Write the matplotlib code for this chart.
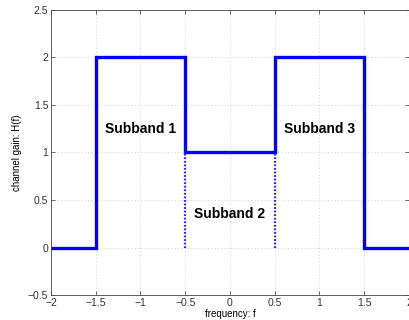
import matplotlib
matplotlib.use("Agg")
import matplotlib.pyplot as plt
import numpy as np

plt.rcParams['font.family'] = ['Liberation Sans', 'DejaVu Sans']

# channel gain, piecewise constant
freq = np.array([-2, -1.5, -1.5, -0.5, -0.5, 0.5, 0.5, 1.5, 1.5, 2])
gain = np.array([0, 0, 2, 2, 1, 1, 2, 2, 0, 0])

# subband boundaries drawn dotted
edges = [-0.5, 0.5]
edge_top = 1

labels = ["Subband 1", "Subband 2", "Subband 3"]
label_x = [-1, 0, 1]
label_y = [1.25, 0.35, 1.25]

fig = plt.figure(figsize=(4.1, 3.2), dpi=100)
ax = fig.add_axes([0.1244, 0.078, 0.873, 0.891])

ax.plot(freq, gain, color='#0000ff', lw=2.4, solid_joinstyle='miter')
for e in edges:
    ax.plot([e, e], [0, edge_top], color='#2828ff', lw=1.6, ls=(0, (0.8, 0.8)))

for t, x, y in zip(labels, label_x, label_y):
    ax.text(x, y, t, ha='center', va='center', fontsize=10, fontweight='bold')

ax.set_xlim(-2, 2)
ax.set_ylim(-0.5, 2.5)
ax.set_xticks(np.arange(-2, 2.01, 0.5))
ax.set_yticks(np.arange(-0.5, 2.51, 0.5))
ax.set_xticklabels(['\u22122', '\u22121.5', '\u22121', '\u22120.5', '0', '0.5', '1', '1.5', '2'])
ax.set_yticklabels(['\u22120.5', '0', '0.5', '1', '1.5', '2', '2.5'])
ax.tick_params(direction='in', top=True, right=True, labelsize=7.5, length=3, width=0.5, pad=2,
               colors='#333333')
ax.grid(True, ls=(0, (1, 3)), color='#c0c0c0', lw=0.6)
for s in ax.spines.values():
    s.set_linewidth(0.6)
    s.set_color('#444444')

ax.set_xlabel('frequency: f', fontsize=7, labelpad=1)
ax.set_ylabel('channel gain: H(f)', fontsize=7, labelpad=4)

fig.savefig('out.png', dpi=100)
